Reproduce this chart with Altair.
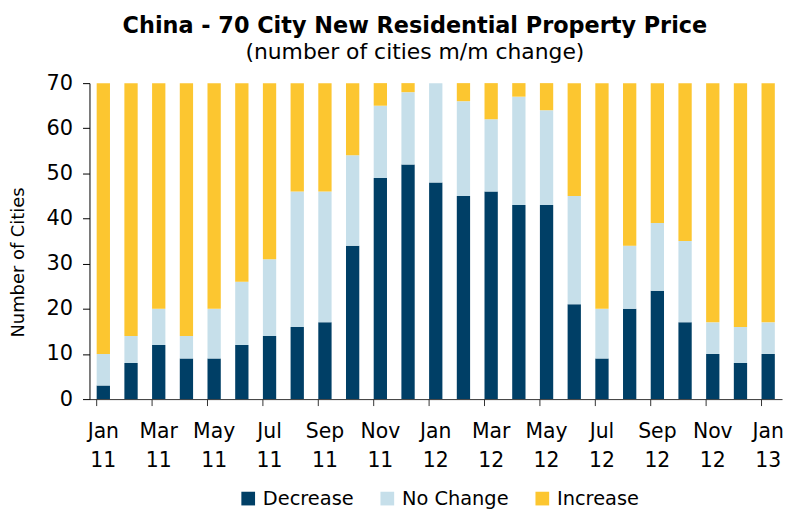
import altair as alt
import pandas as pd

months = ["Jan 11", "Feb 11", "Mar 11", "Apr 11", "May 11", "Jun 11", "Jul 11", "Aug 11",
          "Sep 11", "Oct 11", "Nov 11", "Dec 11", "Jan 12", "Feb 12", "Mar 12", "Apr 12",
          "May 12", "Jun 12", "Jul 12", "Aug 12", "Sep 12", "Oct 12", "Nov 12", "Dec 12", "Jan 13"]
decrease = [3, 8, 12, 9, 9, 12, 14, 16, 17, 34, 49, 52, 48, 45, 46, 43, 43, 21, 9, 20, 24, 17, 10, 8, 10]
no_change = [7, 6, 8, 5, 11, 14, 17, 30, 29, 20, 16, 16, 22, 21, 16, 24, 21, 24, 11, 14, 15, 18, 7, 8, 7]
increase = [60, 56, 50, 56, 50, 44, 39, 24, 24, 16, 5, 2, 0, 4, 8, 3, 6, 25, 50, 36, 31, 35, 53, 54, 53]
series = ["Decrease", "No Change", "Increase"]
colors = ["#003F66", "#C6DFEA", "#FCC630"]
y_ticks = [0, 10, 20, 30, 40, 50, 60, 70]

FONT = "DejaVu Sans"

rows = []
for i, m in enumerate(months):
    for k, (s, vals) in enumerate(zip(series, [decrease, no_change, increase])):
        rows.append({"month": m, "series": s, "value": vals[i], "order": k})
df = pd.DataFrame(rows)

tick_months = months[::2]
ticks_df = pd.DataFrame({"month": tick_months})

x_scale = alt.Scale(domain=months, paddingInner=0.52, paddingOuter=0.26)

bars = alt.Chart(df).mark_bar().encode(
    x=alt.X("month:N", scale=x_scale, sort=months,
            axis=alt.Axis(title=None, values=tick_months, ticks=False,
                          labelExpr="split(datum.label, ' ')", labelAngle=0,
                          labelFont=FONT, labelFontSize=20.5, labelColor="black",
                          labelLineHeight=29, labelPadding=23,
                          domainColor="#333333", domainWidth=1)),
    y=alt.Y("value:Q", stack="zero",
            scale=alt.Scale(domain=[0, 70], nice=False),
            axis=alt.Axis(title="Number of Cities", values=y_ticks, grid=False,
                          labelFont=FONT, labelFontSize=21, labelColor="black",
                          labelPadding=10, tickSize=7, tickColor="black",
                          domainColor="black", domainWidth=1,
                          titleFont=FONT, titleFontSize=18, titleFontWeight="normal",
                          titleColor="black", titleX=-71, titleY=180,
                          titleBaseline="middle")),
    color=alt.Color("series:N", scale=alt.Scale(domain=series, range=colors),
                    legend=alt.Legend(title=None, orient="none", direction="horizontal",
                                      legendX=150, legendY=408,
                                      symbolType="square", symbolSize=190,
                                      symbolStrokeWidth=0, labelFont=FONT,
                                      labelFontSize=19.5, labelColor="black",
                                      labelOffset=5, columnPadding=24)),
    order=alt.Order("order:Q", sort="ascending"),
)

tick_rules = alt.Chart(ticks_df).mark_rule(color="#333333", strokeWidth=1).encode(
    x=alt.X("month:N", scale=x_scale, sort=months, bandPosition=0),
    y=alt.value(318),
    y2=alt.value(325),
)

chart = alt.layer(bars, tick_rules).properties(
    width=697,
    height=318,
    autosize=alt.AutoSizeParams(type="none"),
    padding={"left": 82, "top": 74, "right": 4, "bottom": 110},
    title=alt.TitleParams(
        text="China - 70 City New Residential Property Price",
        subtitle="(number of cities m/m change)",
        font=FONT, fontSize=22.5, fontWeight="bold", color="black",
        subtitleFont=FONT, subtitleFontSize=22, subtitleColor="black",
        subtitlePadding=5, anchor="middle", dx=-21, offset=9,
    ),
).configure_view(stroke=None).configure_axis(labelOverlap=False)

chart.save("out.html", embed_options={"renderer": "svg", "actions": False})
